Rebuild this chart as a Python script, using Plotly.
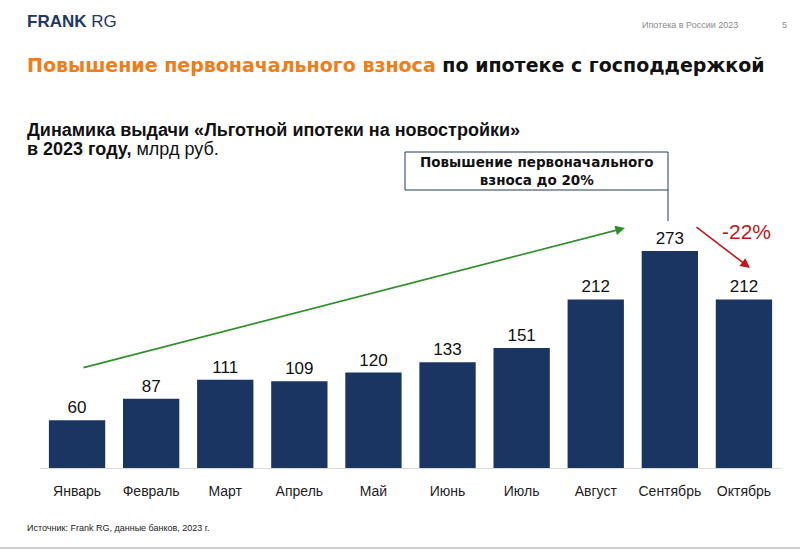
import plotly.graph_objects as go

months = ["Январь", "Февраль", "Март", "Апрель", "Май", "Июнь", "Июль", "Август", "Сентябрь", "Октябрь"]
values = [60, 87, 111, 109, 120, 133, 151, 212, 273, 212]

W, H = 800, 552
L, R, T, B = 40, 19, 100, 84
PW, PH = W - L - R, H - T - B

def px(x):
    return (x - L) / PW

def py(y):
    return (H - B - y) / PH

NARROW = "Liberation Sans Narrow, Arial Narrow, Liberation Sans, sans-serif"
BOLD = "DejaVu Sans, Verdana, sans-serif"
NAVY = "#1B3563"

fig = go.Figure(go.Bar(
    x=months, y=values, marker=dict(color=NAVY, line=dict(width=0)),
    text=values, textposition="outside", cliponaxis=False,
    textfont=dict(size=17, color="#111111", family=NARROW),
    width=0.76, hoverinfo="skip",
))

fig.update_layout(
    width=W, height=H, margin=dict(l=L, r=R, t=T, b=B),
    plot_bgcolor="white", paper_bgcolor="white", showlegend=False,
    bargap=0.24,
    xaxis=dict(showline=True, linecolor="#D9D9D9", linewidth=1, ticks="",
               ticklabelstandoff=10,
               tickfont=dict(size=14, color="#222222", family=NARROW), showgrid=False),
    yaxis=dict(visible=False, range=[0, PH / 0.795], showgrid=False),
)

ann = []
# logo
ann.append(dict(xref="paper", yref="paper", x=px(25), y=py(21), xanchor="left", yanchor="middle",
                text="<b>FRANK</b> RG", showarrow=False,
                font=dict(size=17, color="#1F3864", family="Liberation Sans, Arial, sans-serif")))
ann.append(dict(xref="paper", yref="paper", x=px(740), y=py(25), xanchor="right", yanchor="middle",
                text="Ипотека в России 2023", showarrow=False,
                font=dict(size=9, color="#8C8C8C", family=NARROW)))
ann.append(dict(xref="paper", yref="paper", x=px(784), y=py(25), xanchor="center", yanchor="middle",
                text="5", showarrow=False, font=dict(size=9, color="#8C8C8C", family=NARROW)))
# title
ann.append(dict(xref="paper", yref="paper", x=px(25), y=py(65), xanchor="left", yanchor="middle",
                text="<b><span style='color:#EE7D1A'>Повышение первоначального взноса</span> по ипотеке с господдержкой</b>",
                showarrow=False, font=dict(size=19, color="#111111", family=BOLD)))
# subtitle
ann.append(dict(xref="paper", yref="paper", x=px(25), y=py(130), xanchor="left", yanchor="middle",
                text="<b>Динамика выдачи «Льготной ипотеки на новостройки»</b>",
                showarrow=False, font=dict(size=18, color="#111111", family=NARROW)))
ann.append(dict(xref="paper", yref="paper", x=px(25), y=py(149), xanchor="left", yanchor="middle",
                text="<b>в 2023 году,</b> млрд руб.",
                showarrow=False, font=dict(size=18, color="#111111", family=NARROW)))
# box text
ann.append(dict(xref="paper", yref="paper", x=px(536.5), y=py(171), xanchor="center", yanchor="middle",
                text="<b>Повышение первоначального<br>взноса до 20%</b>", showarrow=False,
                font=dict(size=13.5, color="#111111", family=BOLD)))
# green arrow
ann.append(dict(xref="paper", yref="paper", x=px(625), y=py(228), ax=82 - 625, ay=368 - 228,
                text="", showarrow=True, arrowhead=2, arrowsize=1.2, arrowwidth=1.6, arrowcolor="#2F8F2A"))
# red arrow
ann.append(dict(xref="paper", yref="paper", x=px(750), y=py(268), ax=695 - 750, ay=226 - 268,
                text="", showarrow=True, arrowhead=2, arrowsize=1.2, arrowwidth=1.6, arrowcolor="#C0161B"))
ann.append(dict(xref="paper", yref="paper", x=px(746), y=py(231), xanchor="center", yanchor="middle",
                text="-22%", showarrow=False, font=dict(size=21, color="#C0161B", family=NARROW)))
# footer
ann.append(dict(xref="paper", yref="paper", x=px(25), y=py(528), xanchor="left", yanchor="middle",
                text="Источник: Frank RG, данные банков, 2023 г.", showarrow=False,
                font=dict(size=9, color="#222222", family=NARROW)))
fig.update_layout(annotations=ann)

shapes = [
    dict(type="rect", xref="paper", yref="paper", x0=px(405), x1=px(668), y0=py(152), y1=py(190),
         line=dict(color="#1F3A5F", width=1), fillcolor="white", layer="below"),
    dict(type="line", xref="paper", yref="paper", x0=px(668), x1=px(668), y0=py(190), y1=py(221),
         line=dict(color="#1F3A5F", width=1)),
    dict(type="line", xref="paper", yref="paper", x0=px(0), x1=px(800), y0=py(548), y1=py(548),
         line=dict(color="#D0D0D0", width=2)),
]
fig.update_layout(shapes=shapes)

fig.write_html("out.html", config={"displayModeBar": False},
               post_script="document.body.style.margin='0';document.body.style.overflow='hidden';")
